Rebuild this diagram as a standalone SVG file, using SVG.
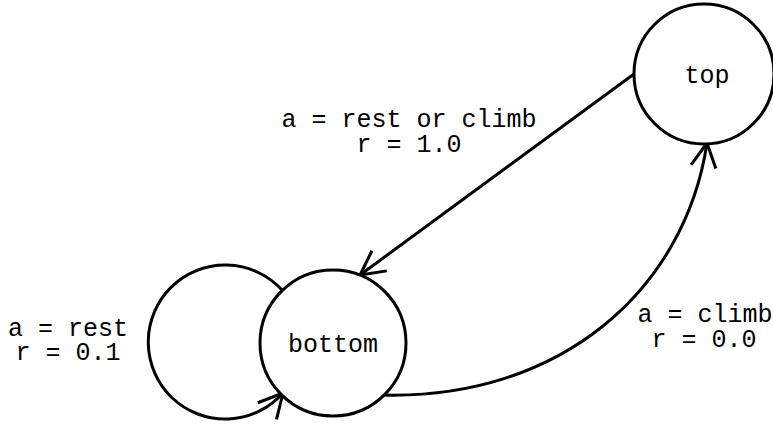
<svg xmlns="http://www.w3.org/2000/svg" width="773" height="424" viewBox="0 0 773 424">
<style>
.node{fill:#fff;stroke:#000;stroke-width:3}
.edge{fill:none;stroke:#000;stroke-width:3}
text{font-family:"Liberation Mono","Courier New",monospace;font-size:25px;fill:#000;text-anchor:middle}
</style>
<defs>
<marker id="arr" markerUnits="userSpaceOnUse" markerWidth="30" markerHeight="30" refX="0" refY="0" orient="auto" overflow="visible">
<path d="M-24,-12.5 L0,0 L-24,12.5" fill="none" stroke="#000" stroke-width="3"/>
</marker>
</defs>
<rect width="773" height="424" fill="#fff"/>
<g id="connectors">
<path class="edge" d="M634,74 L360,275" marker-end="url(#arr)"/>
<path class="edge" d="M382,395 C560,400 685,290 707,143" marker-end="url(#arr)"/>
<path class="edge" d="M282,290 A77,77 0 1 0 283,393" marker-end="url(#arr)"/>
<text x="409" y="127">a = rest or climb<tspan x="409" dy="25">r = 1.0</tspan></text>
<text x="68" y="336">a = rest<tspan x="68" dy="24">r = 0.1</tspan></text>
<text x="705" y="322">a = climb<tspan x="704" dy="25">r = 0.0</tspan></text>
</g>
<g id="top">
<circle class="node" cx="704" cy="74" r="70"/>
<text x="707" y="83">top</text>
</g>
<g id="bottom">
<circle class="node" cx="333" cy="343" r="73"/>
<text x="333" y="352">bottom</text>
</g>
</svg>
